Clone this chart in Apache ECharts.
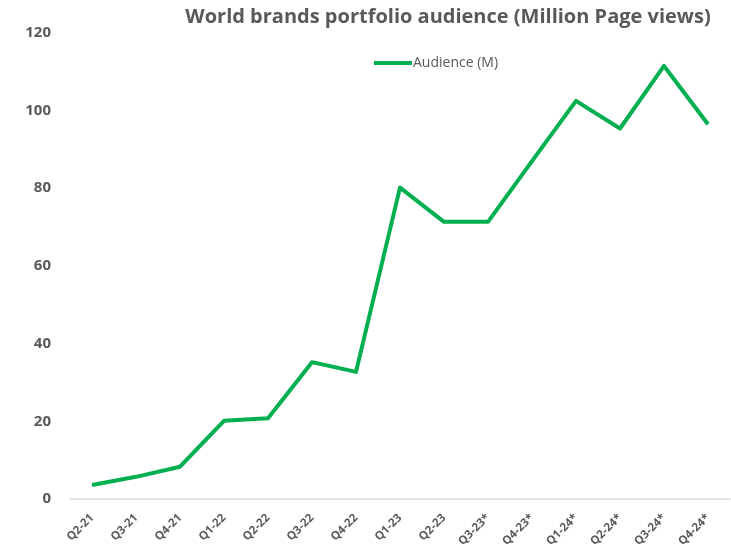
<!DOCTYPE html>
<html>
<head>
<meta charset="utf-8">
<script src="https://cdn.jsdelivr.net/npm/echarts@6/dist/echarts.min.js"></script>
<style>
  html, body { margin: 0; padding: 0; background: #ffffff; }
  #chart { width: 731px; height: 552px; }
</style>
</head>
<body>
<div id="chart"></div>
<script>
// Quarterly audience of the world brands portfolio, million page views (* = estimate)
const quarters = ['Q2-21', 'Q3-21', 'Q4-21', 'Q1-22', 'Q2-22', 'Q3-22', 'Q4-22', 'Q1-23',
                  'Q2-23', 'Q3-23*', 'Q4-23*', 'Q1-24*', 'Q2-24*', 'Q3-24*', 'Q4-24*'];
const audience = [3.6, 5.7, 8.3, 20.1, 20.8, 35.2, 32.7, 80.1,
                  71.3, 71.3, 86.9, 102.4, 95.3, 111.4, 96.4];
const seriesName = 'Audience (M)';
const titleText = 'World brands portfolio audience (Million Page views)';

const chart = echarts.init(document.getElementById('chart'), null, { renderer: 'canvas' });

chart.setOption({
  animation: false,
  backgroundColor: '#ffffff',
  title: {
    text: titleText,
    left: 443,
    textAlign: 'center',
    top: 2,
    textStyle: {
      fontFamily: 'Open Sans',
      fontWeight: 'bold',
      fontSize: 20,
      color: '#595959'
    }
  },
  legend: {
    data: [seriesName],
    left: 369,
    top: 51,
    itemWidth: 38,
    itemHeight: 4,
    itemGap: 0,
    icon: 'rect',
    textStyle: {
      fontFamily: 'Open Sans',
      fontSize: 14,
      color: '#595959',
      padding: [0, 0, 0, -4]
    }
  },
  grid: {
    left: 70,
    right: 1,
    top: 32.5,
    bottom: 53,
    containLabel: false
  },
  xAxis: {
    type: 'category',
    data: quarters,
    boundaryGap: true,
    axisLine: { show: true, lineStyle: { color: '#d9d9d9', width: 1.5 } },
    axisTick: { show: false },
    axisLabel: {
      rotate: 45,
      interval: 0,
      margin: 17,
      fontFamily: 'Open Sans',
      fontWeight: 'bold',
      fontSize: 11.5,
      color: '#595959'
    }
  },
  yAxis: {
    type: 'value',
    min: 0,
    max: 120,
    interval: 20,
    axisLine: { show: false },
    axisTick: { show: false },
    splitLine: { show: false },
    axisLabel: {
      margin: 19,
      fontFamily: 'Open Sans',
      fontWeight: 'bold',
      fontSize: 15,
      color: '#595959'
    }
  },
  series: [{
    name: seriesName,
    type: 'line',
    data: audience,
    symbol: 'none',
    lineStyle: { color: '#00b050', width: 4, join: 'round' },
    itemStyle: { color: '#00b050' }
  }]
});
</script>
</body>
</html>
